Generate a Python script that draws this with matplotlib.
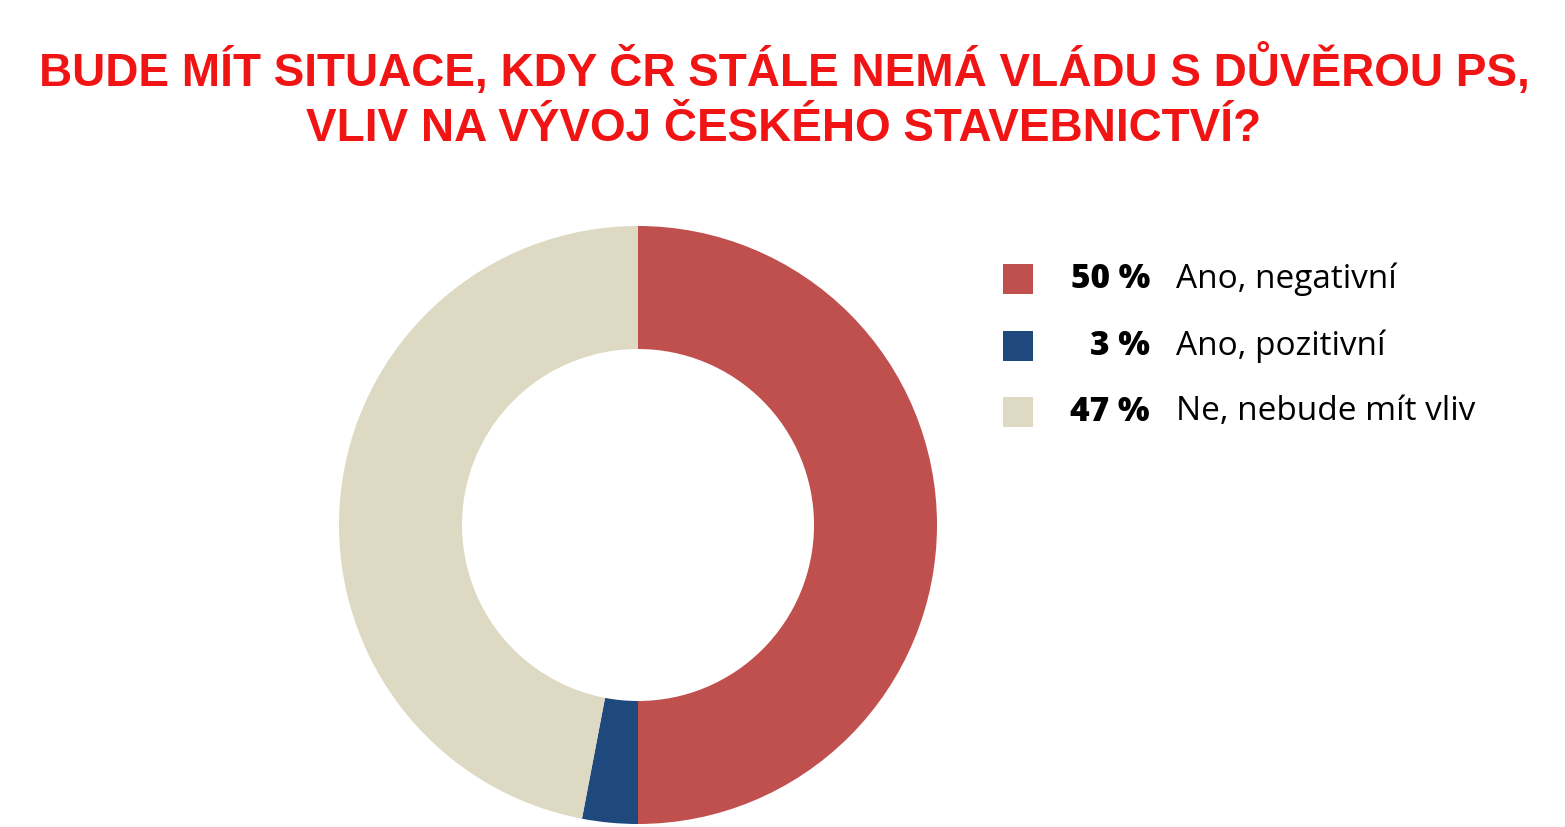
import matplotlib
matplotlib.use("Agg")
import matplotlib.pyplot as plt
from matplotlib.patches import Rectangle

title_lines = ["BUDE MÍT SITUACE, KDY ČR STÁLE NEMÁ VLÁDU S DŮVĚROU PS,",
               "VLIV NA VÝVOJ ČESKÉHO STAVEBNICTVÍ?"]
labels = ["Ano, negativní", "Ano, pozitivní", "Ne, nebude mít vliv"]
values = [50, 3, 47]
pct_labels = ["50 %", "3 %", "47 %"]
colors = ["#C0504D", "#1F497D", "#DDD9C3"]

W, H = 1565, 827
fig = plt.figure(figsize=(W / 100, H / 100), dpi=100)
fig.patch.set_facecolor("white")
ax = fig.add_axes([0, 0, 1, 1])
ax.axis("off")

cx, cy = 638, H - 525
R, r_in = 299, 176
ax.pie(values, colors=colors, startangle=90, counterclock=False,
       center=(cx, cy), radius=R,
       wedgeprops=dict(width=R - r_in, linewidth=0))
ax.set_xlim(0, W)
ax.set_ylim(0, H)
ax.set_aspect("equal")

title_y = [70, 129]
for i, line in enumerate(title_lines):
    fig.text(784 / W, 1 - title_y[i] / H, line, ha="center", va="center",
             color="#F01414", fontsize=33, fontweight="bold", family="Liberation Sans")

legend_font = "Open Sans"
row_y = [279, 346, 412]
for i in range(len(labels)):
    y = H - row_y[i]
    ax.add_patch(Rectangle((1003, y - 15), 30, 30, facecolor=colors[i], edgecolor="none"))
    ax.text(1150, y, pct_labels[i], ha="right", va="center", fontsize=24,
            fontweight="heavy", family=legend_font, color="black")
    ax.text(1176, y, labels[i], ha="left", va="center", fontsize=24,
            family=legend_font, color="black")

fig.savefig("out.png", dpi=100, facecolor="white")
